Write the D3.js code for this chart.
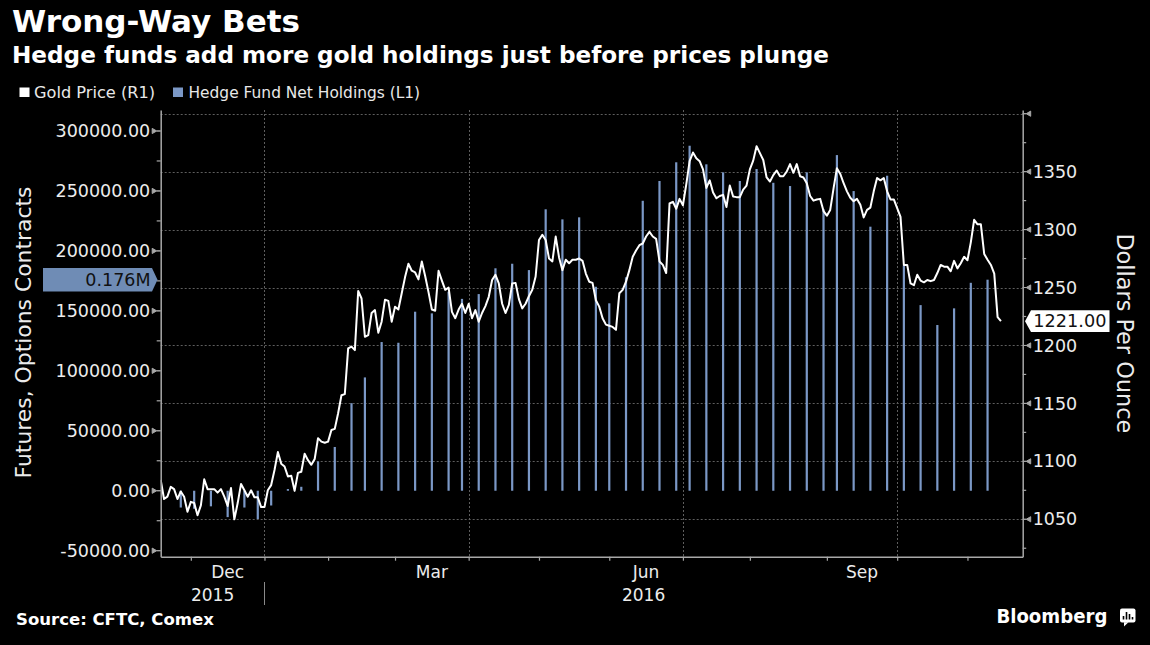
<!DOCTYPE html>
<html><head><meta charset="utf-8">
<script src="https://cdn.jsdelivr.net/npm/d3@7"></script>
<style>body{margin:0;background:#000}svg{display:block}</style>
</head><body>
<svg id="chart" width="1150" height="645"></svg>
<script>
// ---------------- data ----------------
const titleText = "Wrong-Way Bets";
const subtitleText = "Hedge funds add more gold holdings just before prices plunge";
const sourceText = "Source: CFTC, Comex";
const legendLabels = ["Gold Price (R1)", "Hedge Fund Net Holdings (L1)"];
const leftAxisTitle = "Futures, Options Contracts";
const rightAxisTitle = "Dollars Per Ounce";
const leftTicks = [-50000, 0, 50000, 100000, 150000, 200000, 250000, 300000];
const leftMinorTicks = [-25000, 25000, 75000, 125000, 175000, 225000, 275000];
const rightTicks = [1050, 1100, 1150, 1200, 1250, 1300, 1350];
const rightGridTicks = [1050, 1100, 1150, 1200, 1250, 1300, 1350, 1400];
const rightMinorTicks = [1025, 1075, 1125, 1175, 1225, 1275, 1325, 1375];
const monthLabelKeys = ["2015-12", "2016-03", "2016-06", "2016-09"];
const monthLabelText = ["Dec", "Mar", "Jun", "Sep"];
const quarterMonths = ["2016-01", "2016-04", "2016-07", "2016-10"];
const yearLabels = ["2015", "2016"];
const marketHolidays = ["2015-11-26", "2015-12-25", "2016-01-01", "2016-01-18", "2016-02-15",
  "2016-03-25", "2016-05-30", "2016-07-04", "2016-09-05"];
const calendarStart = "2015-11-16";
const calendarEnd = "2016-11-30";
const xDomainDays = [0, 257.5];

// gold spot, one value per trading day from 2015-11-16 to 2016-11-14
const goldPrice = [
 1084,1067.5,1069.5,1078,1076,1067.5,1074,1069.5,1056.5,1065,
 1064,1053.5,1062,1084.5,1076,1076,1076,1073,1076,1069.5,
 1061.5,1077,1050,1064,1080.5,1075,1069.5,1075,1069,1069,
 1060.5,1060.5,1075,1079.5,1092.5,1108,1098,1095.5,1087,1087.5,
 1074.5,1090,1091,1106.5,1101,1097,1102,1120,1117,1116,
 1117,1127,1128,1141.5,1157,1158,1197.5,1199,1196,1247,
 1240.5,1207.5,1209,1228,1230.5,1211,1220.5,1239.5,1238.5,1220.5,
 1233.5,1231,1245,1259,1270.5,1264.5,1263,1257,1272.5,1260,
 1246,1231,1230,1264.5,1256,1248,1250,1229,1223.5,1231,
 1236,1228,1236,1223.5,1230.5,1220.5,1228,1234,1242,1256.5,
 1261,1253.5,1236,1228,1235,1253.5,1254,1240,1232,1236,
 1242.5,1248,1259.5,1291,1295.5,1291,1275,1272.5,1294,1276,
 1265,1274,1271,1274,1274,1275,1273,1262,1255,1254,
 1239,1233.5,1223.5,1218,1217,1216,1213.5,1245,1248,1255,
 1265,1276.5,1282,1286.5,1288,1294,1298,1294,1292,1272.5,
 1269.5,1262.5,1322.5,1324,1318,1326.5,1321,1339,1359,1366.5,
 1361.5,1359,1352,1336,1342.5,1332,1327,1329,1330,1319.5,
 1338,1328.5,1328,1328,1334.5,1338,1352,1359.5,1372,1366,
 1360,1345,1341.5,1347,1351,1346,1346,1350,1356.5,1349,
 1356.5,1346,1345,1340,1329,1325,1326,1326.5,1316,1312,
 1317,1335.5,1353,1348,1340,1333,1327.5,1324.5,1326.5,1321.5,
 1310.5,1317,1319,1333,1344.5,1342.5,1344.5,1333,1326,1326,
 1318.5,1311,1269.5,1269.5,1253.5,1252,1261,1256,1254.5,1256.5,
 1255.5,1256.5,1262.5,1269.5,1268,1268,1264,1273,1266.5,1271,
 1276.5,1273.5,1289,1308.5,1304.5,1304.5,1279,1274,1269.5,1262,
 1224.5,1221
];

// CFTC weekly net holdings (report Tuesdays)
const holdingDates = [
 "2015-11-24","2015-12-01","2015-12-08","2015-12-15","2015-12-22","2015-12-29",
 "2016-01-05","2016-01-12","2016-01-19","2016-01-26","2016-02-02","2016-02-09",
 "2016-02-16","2016-02-23","2016-03-01","2016-03-08","2016-03-15","2016-03-22",
 "2016-03-29","2016-04-05","2016-04-12","2016-04-19","2016-04-26","2016-05-03",
 "2016-05-10","2016-05-17","2016-05-24","2016-05-31","2016-06-07","2016-06-14",
 "2016-06-21","2016-06-28","2016-07-05","2016-07-12","2016-07-19","2016-07-26",
 "2016-08-02","2016-08-09","2016-08-16","2016-08-23","2016-08-30","2016-09-06",
 "2016-09-13","2016-09-20","2016-09-27","2016-10-04","2016-10-11","2016-10-18",
 "2016-10-25","2016-11-01","2016-11-08"
];
const holdingValues = [
 -14000,-15000,-13000,-22000,-14000,-23600,
 -12300,1400,3300,24500,36500,73000,
 94500,124000,123400,149300,147900,166000,
 160000,164000,185500,189300,184000,234700,
 226300,228000,170100,156300,178000,241800,
 258300,273900,287700,272200,265500,258300,
 268300,256800,254100,265500,234700,279900,
 249900,220200,262700,188000,154800,138200,
 152100,173400,176000
];
const lastHoldingLabel = "0.176M";
const lastPriceLabel = "1221.00";

// ---------------- trading-day calendar ----------------
function buildTradingDays(start, end) {
  const out = [];
  const d = new Date(start + "T00:00:00Z");
  const e = new Date(end + "T00:00:00Z");
  while (d <= e) {
    const wd = d.getUTCDay();
    const iso = d.toISOString().slice(0, 10);
    if (wd !== 0 && wd !== 6 && !marketHolidays.includes(iso)) out.push(iso);
    d.setUTCDate(d.getUTCDate() + 1);
  }
  return out;
}
const tradingDays = buildTradingDays(calendarStart, calendarEnd);
const dayIndex = new Map(tradingDays.map((d, i) => [d, i]));
// month boundary = last trading day of previous month
const monthBoundary = new Map();
for (let i = 1; i < tradingDays.length; i++) {
  const m = tradingDays[i].slice(0, 7);
  if (m !== tradingDays[i - 1].slice(0, 7)) monthBoundary.set(m, i - 1);
}
const monthKeys = Array.from(monthBoundary.keys()).filter(k => monthBoundary.get(k) <= xDomainDays[1]);

// ---------------- layout ----------------
const FONT = "DejaVu Sans";
const plot = {left: 160.7, right: 1022.7, top: 110, bottom: 556.7};
const svg = d3.select("#chart");
svg.append("rect").attr("width", 1150).attr("height", 645).attr("fill", "#000");

const x = d3.scaleLinear().domain(xDomainDays).range([plot.left, plot.right]);
const yL = d3.scaleLinear().domain([-55000, 317500]).range([plot.bottom, plot.top]);
const yR = d3.scaleLinear().domain([1017.7, 1403.2]).range([plot.bottom, plot.top]);

function fit(sel, target) {
  const w = sel.node().getComputedTextLength();
  const fs = parseFloat(sel.attr("font-size"));
  sel.attr("font-size", (fs * target / w).toFixed(2));
  return sel;
}

// titles
fit(svg.append("text").attr("x", 12).attr("y", 31.7).attr("font-family", FONT).attr("font-weight", "bold")
  .attr("font-size", 29).attr("fill", "#fff").text(titleText), 288);
fit(svg.append("text").attr("x", 12).attr("y", 62.5).attr("font-family", FONT).attr("font-weight", "bold")
  .attr("font-size", 21).attr("fill", "#fff").text(subtitleText), 817);

// legend
const BAR_COLOR = "#7b98c6";
svg.append("rect").attr("x", 19.5).attr("y", 87.5).attr("width", 10).attr("height", 9.5).attr("fill", "#fff");
fit(svg.append("text").attr("x", 34).attr("y", 97.5).attr("font-family", FONT).attr("font-size", 15.7)
  .attr("fill", "#e8e8e8").text(legendLabels[0]), 121);
svg.append("rect").attr("x", 173).attr("y", 87.5).attr("width", 10).attr("height", 9.5).attr("fill", BAR_COLOR);
fit(svg.append("text").attr("x", 188.5).attr("y", 97.5).attr("font-family", FONT).attr("font-size", 15.7)
  .attr("fill", "#e8e8e8").text(legendLabels[1]), 231.5);

// grid
const grid = svg.append("g").attr("stroke", "#5e5e5e").attr("stroke-width", 1).attr("stroke-dasharray", "2,2");
grid.selectAll("line.h").data(rightGridTicks).join("line").attr("class", "h")
  .attr("x1", plot.left).attr("x2", plot.right)
  .attr("y1", d => Math.round(yR(d)) + 0.5).attr("y2", d => Math.round(yR(d)) + 0.5);
grid.selectAll("line.v").data(quarterMonths).join("line").attr("class", "v")
  .attr("y1", plot.top).attr("y2", plot.bottom)
  .attr("x1", d => Math.round(x(monthBoundary.get(d))) + 0.5).attr("x2", d => Math.round(x(monthBoundary.get(d))) + 0.5);

// clip
svg.append("clipPath").attr("id", "plotclip").append("rect")
  .attr("x", plot.left).attr("y", plot.top - 5).attr("width", plot.right - plot.left).attr("height", plot.bottom - plot.top + 5);

// bars
const holdings = holdingDates.map((d, i) => ({day: dayIndex.get(d), v: holdingValues[i]}));
svg.append("g").attr("clip-path", "url(#plotclip)").selectAll("rect").data(holdings).join("rect")
  .attr("x", d => x(d.day) - 1.1).attr("width", 2.2)
  .attr("y", d => Math.min(yL(0), yL(d.v)))
  .attr("height", d => Math.abs(yL(d.v) - yL(0)))
  .attr("fill", BAR_COLOR);

// gold line
const line = d3.line().x((d, i) => x(i)).y(d => yR(d));
svg.append("path").attr("clip-path", "url(#plotclip)").datum(goldPrice).attr("d", line)
  .attr("fill", "none").attr("stroke", "#fff").attr("stroke-width", 2).attr("stroke-linejoin", "round");

// axes
const AX = "#a8a8a8";
const TXT = "#ececec";
const left = svg.append("g").attr("transform", `translate(${plot.left},0)`)
  .call(d3.axisLeft(yL).tickValues(leftTicks).tickFormat(d => d.toFixed(2)).tickSize(0).tickPadding(10.5));
const right = svg.append("g").attr("transform", `translate(${plot.right},0)`)
  .call(d3.axisRight(yR).tickValues(rightTicks).tickFormat(d => String(d)).tickSize(0).tickPadding(10));
const bottom = svg.append("g").attr("transform", `translate(0,${plot.bottom})`)
  .call(d3.axisBottom(x).tickValues(monthKeys.map(k => monthBoundary.get(k))).tickFormat("").tickSize(4).tickSizeOuter(0));
[left, right, bottom].forEach(g => {
  g.select(".domain").attr("stroke", AX).attr("stroke-width", 1.5);
  g.selectAll(".tick line").attr("stroke", AX).attr("stroke-width", 1.2);
  g.selectAll(".tick text").attr("font-family", FONT).attr("font-size", 17.5).attr("fill", TXT);
});
// tick markers (triangles) and minor ticks
const mk = svg.append("g").attr("fill", AX).attr("stroke", AX);
leftTicks.forEach(v => {
  const y = yL(v);
  mk.append("path").attr("d", `M${plot.left},${y}H${plot.left - 4}L${plot.left - 8.5},${y - 2.6}V${y + 2.6}L${plot.left - 4},${y}Z`).attr("stroke-width", 1);
});
leftMinorTicks.forEach(v => {
  mk.append("line").attr("x1", plot.left).attr("x2", plot.left - 4).attr("y1", yL(v)).attr("y2", yL(v)).attr("stroke-width", 1.2);
});
rightGridTicks.forEach(v => {
  const y = yR(v);
  mk.append("path").attr("d", `M${plot.right},${y}H${plot.right + 3.5}L${plot.right + 8},${y - 2.6}V${y + 2.6}L${plot.right + 3.5},${y}Z`).attr("stroke-width", 1);
});
rightMinorTicks.forEach(v => {
  mk.append("line").attr("x1", plot.right).attr("x2", plot.right + 3.5).attr("y1", yR(v)).attr("y2", yR(v)).attr("stroke-width", 1.2);
});

// month + year labels
const xLab = svg.append("g").attr("font-family", FONT).attr("font-size", 17).attr("fill", TXT).attr("text-anchor", "middle");
monthLabelKeys.forEach((k, i) => {
  const idx = monthKeys.indexOf(k);
  const a = monthBoundary.get(k);
  const b = monthBoundary.get(monthKeys[idx + 1]);
  xLab.append("text").attr("x", x((a + b) / 2)).attr("y", 577.7).text(monthLabelText[i]);
});
const yearSplit = monthBoundary.get("2016-01");
xLab.append("text").attr("x", x((xDomainDays[0] + yearSplit) / 2)).attr("y", 600.7).text(yearLabels[0]);
xLab.append("text").attr("x", x((yearSplit + xDomainDays[1]) / 2)).attr("y", 600.7).text(yearLabels[1]);
svg.append("line").attr("x1", Math.round(x(yearSplit)) + 0.5).attr("x2", Math.round(x(yearSplit)) + 0.5)
  .attr("y1", 582).attr("y2", 605).attr("stroke", "#8a8a8a").attr("stroke-width", 1);

// axis titles
fit(svg.append("text").attr("transform", "translate(31,332.5) rotate(-90)").attr("text-anchor", "middle")
  .attr("font-family", FONT).attr("font-size", 21.7).attr("fill", TXT).text(leftAxisTitle), 291.7);
fit(svg.append("text").attr("transform", "translate(1117,333.3) rotate(90)").attr("text-anchor", "middle")
  .attr("font-family", FONT).attr("font-size", 22).attr("fill", TXT).text(rightAxisTitle), 200);

// last-value labels
const lastH = holdingValues[holdingValues.length - 1];
const yh = yL(lastH);
svg.append("path").attr("d", `M43,${yh - 11.7}H152L157.5,${yh}L152,${yh + 11.7}H43Z`).attr("fill", "#6f8cb5");
svg.append("text").attr("x", 150.5).attr("y", yh + 6.2).attr("text-anchor", "end").attr("font-family", FONT)
  .attr("font-size", 17.5).attr("fill", "#111").text(lastHoldingLabel);
const lastP = goldPrice[goldPrice.length - 1];
const yp = yR(lastP);
svg.append("path").attr("d", `M1025,${yp}L1031,${yp - 10.8}H1109.5V${yp + 10.8}H1031Z`).attr("fill", "#fff");
svg.append("text").attr("x", 1033.3).attr("y", yp + 6.3).attr("font-family", FONT)
  .attr("font-size", 17.7).attr("fill", "#111").text(lastPriceLabel);

// footer
fit(svg.append("text").attr("x", 16).attr("y", 625).attr("font-family", FONT).attr("font-weight", "bold")
  .attr("font-size", 16.5).attr("fill", "#fff").text(sourceText), 198);
svg.append("text").attr("x", 996.4).attr("y", 623.3).attr("font-family", FONT).attr("font-weight", "bold")
  .attr("font-size", 20).attr("fill", "#fff").attr("textLength", 111).attr("lengthAdjust", "spacingAndGlyphs").text("Bloomberg");
const icon = svg.append("g");
icon.append("rect").attr("x", 1120).attr("y", 608.5).attr("width", 15.5).attr("height", 14).attr("rx", 2).attr("fill", "#fff");
icon.append("path").attr("d", "M1124,622.3L1124,626.5L1128.5,622.3Z").attr("fill", "#fff");
[[1123.5, 616], [1126.5, 612], [1129.5, 614], [1132.5, 617]].forEach(([bx, by]) =>
  icon.append("rect").attr("x", bx - 0.8).attr("y", by).attr("width", 1.6).attr("height", 619.5 - by).attr("fill", "#000"));
</script>
</body></html>
